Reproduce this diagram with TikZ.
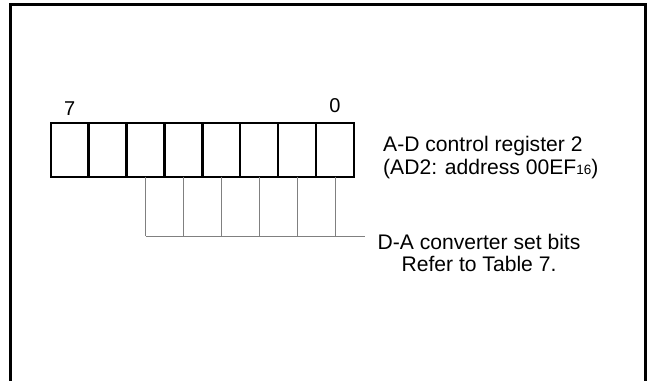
\documentclass[tikz,border=0pt]{standalone}
\usepackage{fontspec}
\setmainfont{Liberation Sans}
\begin{document}
\begin{tikzpicture}[x=1pt,y=-1pt,
  cell/.style={draw=black,line width=2.4pt,minimum width=37.9pt,minimum height=54pt,inner sep=0pt,outer sep=0pt},
  lbl/.style={inner sep=0pt,font=\fontsize{21.1}{24}\selectfont},
  bitlbl/.style={inner sep=0pt,font=\fontsize{20}{24}\selectfont},
  lead/.style={draw=black!50,line width=0.9pt},
  frame/.style={draw=black,line width=2.6pt}]
\useasboundingbox (0,0) rectangle (647,380);
\fill[white] (0,0) rectangle (647,380);
\draw[frame] (10.5,385) -- (10.5,4.5) -- (645.5,4.5) -- (645.5,385);
% register cells
\foreach \i in {0,...,7}{
  \node[cell] (c\i) at ({50.7+37.9*\i+18.95},149.7) {};
}
\node[bitlbl,anchor=base] (b7) at (c0.north |- 0,115) {7};
\node[bitlbl,anchor=base] (b0) at (c7.north |- 0,112) {0};
% labels
\node[lbl,anchor=base west] (r1) at (383,151) {A-D control register 2};
\node[lbl,anchor=base west] (r2) at (383,174.5) {(AD2: address 00EF{\fontsize{13.5}{13.5}\selectfont 16})};
\node[lbl,anchor=base] (d1) at (479,249) {D-A converter set bits};
\node[lbl,anchor=base] (d2) at (479,271) {Refer to Table 7.};
% leader lines
\coordinate (hl) at (145.7,236);
\coordinate (hr) at (365,236);
\draw[lead] (hl) -- (hr);
\foreach \i in {2,...,7}{
  \draw[lead] (c\i.south) -- (c\i.south |- hl);
}
\end{tikzpicture}
\end{document}
